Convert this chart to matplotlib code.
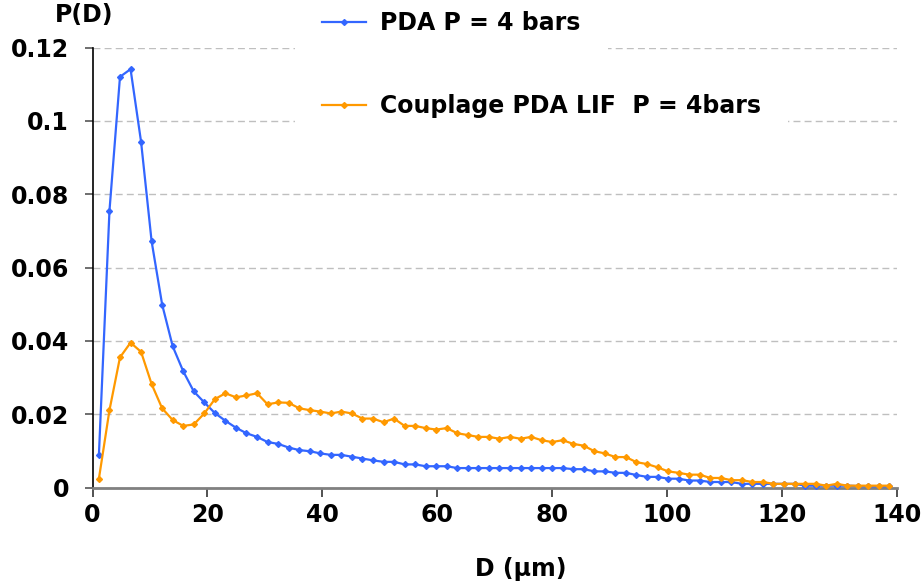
import matplotlib
matplotlib.use("Agg")
import matplotlib.pyplot as plt
from matplotlib.lines import Line2D

plt.rcParams['font.family'] = ['DejaVu Sans']
plt.rcParams['font.weight'] = 'bold'

# ---------------- data ----------------
D_um = [1.10, 2.94, 4.77, 6.61, 8.44, 10.28, 12.11, 13.95, 15.78, 17.62,
        19.45, 21.29, 23.12, 24.96, 26.79, 28.63, 30.46, 32.30, 34.13, 35.97,
        37.80, 39.64, 41.47, 43.31, 45.14, 46.98, 48.81, 50.65, 52.48, 54.32,
        56.15, 57.99, 59.82, 61.66, 63.49, 65.33, 67.16, 69.00, 70.83, 72.67,
        74.50, 76.34, 78.17, 80.01, 81.84, 83.68, 85.51, 87.35, 89.18, 91.02,
        92.85, 94.69, 96.52, 98.36, 100.19, 102.03, 103.86, 105.70, 107.53, 109.37,
        111.20, 113.04, 114.87, 116.71, 118.54, 120.38, 122.21, 124.05, 125.88, 127.72,
        129.55, 131.39, 133.22, 135.06, 136.89, 138.73]

pda = [0.0089, 0.0755, 0.1120, 0.1141, 0.0943, 0.0671, 0.0499, 0.0385, 0.0317, 0.0262,
       0.0232, 0.0203, 0.0182, 0.0163, 0.0148, 0.0138, 0.0124, 0.0119, 0.0109, 0.0102,
       0.0099, 0.0093, 0.0089, 0.0089, 0.0084, 0.0079, 0.0074, 0.0070, 0.0070, 0.0063,
       0.0063, 0.0058, 0.0058, 0.0058, 0.0053, 0.0053, 0.0053, 0.0053, 0.0053, 0.0053,
       0.0053, 0.0053, 0.0053, 0.0053, 0.0053, 0.0050, 0.0050, 0.0044, 0.0044, 0.0040,
       0.0040, 0.0034, 0.0029, 0.0029, 0.0024, 0.0024, 0.0019, 0.0019, 0.0015, 0.0015,
       0.0015, 0.0010, 0.0010, 0.0010, 0.0010, 0.0010, 0.0010, 0.0005, 0.0005, 0.0005,
       0.0005, 0.0005, 0.0004, 0.0003, 0.0003, 0.0003]

couplage = [0.0024, 0.0211, 0.0355, 0.0395, 0.0370, 0.0282, 0.0216, 0.0184, 0.0168, 0.0172,
            0.0202, 0.0241, 0.0257, 0.0246, 0.0251, 0.0257, 0.0227, 0.0232, 0.0231, 0.0216,
            0.0211, 0.0207, 0.0202, 0.0207, 0.0202, 0.0188, 0.0188, 0.0178, 0.0188, 0.0168,
            0.0168, 0.0162, 0.0158, 0.0162, 0.0148, 0.0143, 0.0138, 0.0138, 0.0133, 0.0138,
            0.0133, 0.0138, 0.0129, 0.0124, 0.0129, 0.0119, 0.0114, 0.0099, 0.0093, 0.0083,
            0.0083, 0.0069, 0.0064, 0.0055, 0.0044, 0.0040, 0.0035, 0.0035, 0.0026, 0.0026,
            0.0020, 0.0020, 0.0015, 0.0015, 0.0010, 0.0010, 0.0010, 0.0010, 0.0010, 0.0005,
            0.0010, 0.0005, 0.0005, 0.0005, 0.0005, 0.0005]

labels = ["PDA P = 4 bars", "Couplage PDA LIF  P = 4bars"]
x_ticks = [0, 20, 40, 60, 80, 100, 120, 140]
y_ticks = [0, 0.02, 0.04, 0.06, 0.08, 0.10, 0.12]
y_tick_labels = ["0", "0.02", "0.04", "0.06", "0.08", "0.1", "0.12"]

BLUE = '#3366FF'
ORANGE = '#FF9900'

# ---------------- figure ----------------
fig = plt.figure(figsize=(9.24, 5.83), dpi=100)
ax = fig.add_axes([0.1002, 0.1638, 0.8703, 0.7547])

ax.plot(D_um, pda, color=BLUE, lw=1.6, marker='D', ms=3, mec=BLUE, mfc=BLUE,
        zorder=3, clip_on=False)
ax.plot(D_um, couplage, color=ORANGE, lw=1.6, marker='D', ms=3, mec=ORANGE, mfc=ORANGE,
        zorder=3, clip_on=False)

ax.set_xlim(0, 140)
ax.set_ylim(0, 0.12)
ax.set_xticks(x_ticks)
ax.set_xticklabels([str(v) for v in x_ticks])
ax.set_yticks(y_ticks)
ax.set_yticklabels(y_tick_labels)

ax.yaxis.grid(True, color='#BFBFBF', lw=1.0, linestyle=(0, (5, 3)), zorder=0)
ax.set_axisbelow(True)

for s in ['top', 'right']:
    ax.spines[s].set_visible(False)
ax.spines['left'].set_color('black')
ax.spines['left'].set_linewidth(1.2)
ax.spines['bottom'].set_color('#808080')
ax.spines['bottom'].set_linewidth(2.0)

fs = 17
ax.tick_params(axis='x', direction='out', length=6.5, width=1.2, color='#333333',
               pad=5, labelsize=fs)
ax.tick_params(axis='y', direction='out', length=6, width=1.2, color='#555555',
               pad=11, labelsize=fs)
for lab in ax.get_xticklabels() + ax.get_yticklabels():
    lab.set_fontweight('bold')

fig.text(521 / 924, 1 - 569 / 583, "D (µm)", ha='center', va='center',
         fontsize=fs, fontweight='bold')
fig.text(55 / 924, 1 - 15 / 583, "P(D)", ha='left', va='center',
         fontsize=fs, fontweight='bold')

# ---------------- legends (two separate boxes) ----------------
def make_handle(c):
    return Line2D([0], [0], color=c, lw=1.6, marker='D', ms=3, mfc=c, mec=c)

bp = 1.15
pad_px = bp * fs * 100 / 72
leg1 = fig.legend([make_handle(BLUE)], [labels[0]], loc='center left',
                  bbox_to_anchor=((322 - pad_px) / 924, 1 - 23 / 583),
                  frameon=True, facecolor='white', edgecolor='none', framealpha=1,
                  fancybox=False, borderpad=bp, borderaxespad=0,
                  handlelength=1.85, handletextpad=0.62,
                  prop={'size': fs, 'weight': 'bold'})
fig.add_artist(leg1)
leg2 = fig.legend([make_handle(ORANGE)], [labels[1]], loc='center left',
                  bbox_to_anchor=((322 - pad_px) / 924, 1 - 106 / 583),
                  frameon=True, facecolor='white', edgecolor='none', framealpha=1,
                  fancybox=False, borderpad=bp, borderaxespad=0,
                  handlelength=1.85, handletextpad=0.62,
                  prop={'size': fs, 'weight': 'bold'})

fig.savefig("out.png", dpi=100)
